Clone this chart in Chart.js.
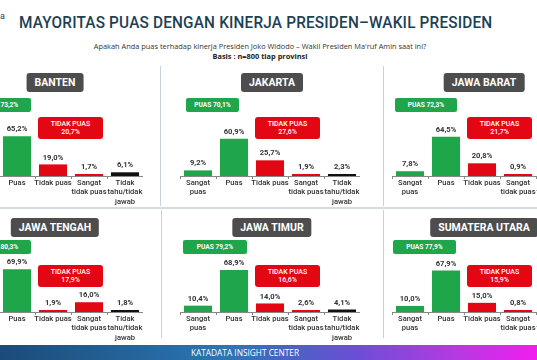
<!DOCTYPE html>
<html>
<head>
<meta charset="utf-8">
<script src="https://cdn.jsdelivr.net/npm/chart.js@4.4.1/dist/chart.umd.min.js"></script>
<style>
  body { margin: 0; width: 537px; height: 360px; overflow: hidden; position: relative; background: #fff; font-family: Roboto, sans-serif; }
  .abs { position: absolute; }
  #title { left: 19px; top: 12px; font-size: 17px; font-weight: 500; color: #1d4154; white-space: nowrap; transform-origin: 0 0; letter-spacing: 0.2px; }
  #sub { left: 0; width: 520px; top: 41px; text-align: center; font-family: 'Open Sans', sans-serif; font-size: 7.4px; color: #333; }
  #basis { left: 0; width: 520px; top: 51px; text-align: center; font-family: 'Open Sans', sans-serif; font-size: 7.4px; font-weight: 700; color: #222; }
  .vline { width: 1px; background: #c9d0da; }
  .hline { height: 2px; background: #d5dbe3; }
  .tbox { background: #4d4d4d; color: #fff; font-weight: 700; font-size: 10.5px; height: 19px; line-height: 19px; padding: 0 8px; border-radius: 3px; transform: translateX(-50%); white-space: nowrap; }
  .gbox { background: #1fa64a; color: #fff; font-weight: 700; font-size: 6.6px; height: 14px; line-height: 14px; text-align: center; border-radius: 2px; white-space: nowrap; }
  .rbox { background: #e30613; color: #fff; font-weight: 500; font-size: 7px; height: 22px; line-height: 8.5px; text-align: center; border-radius: 3px; box-sizing: border-box; padding-top: 2.5px; }
  #footer { left: 0; top: 345px; width: 537px; height: 15px; background: linear-gradient(90deg, #1b4b78 0%, #2c76b3 42%, #6a4fd6 66%, #b53ae2 85%, #f21df0 100%); }
  #footer span { position: absolute; left: 190px; width: 110px; text-align: center; top: 2px; font-family: 'Open Sans', sans-serif; font-size: 8.3px; color: #fff; white-space: nowrap; }
</style>
</head>
<body>
<div class="abs" style="left:0;top:11px;font-size:9px;color:#1d4154;">a</div>
<div class="abs" id="title">MAYORITAS PUAS DENGAN KINERJA PRESIDEN–WAKIL PRESIDEN</div>
<div class="abs" id="sub">Apakah Anda puas terhadap kinerja Presiden Joko Widodo – Wakil Presiden Ma'ruf Amin saat ini?</div>
<div class="abs" id="basis">Basis : n=800 tiap provinsi</div>

<div class="abs vline" style="left:160px;top:66px;height:140px;"></div>
<div class="abs vline" style="left:383px;top:66px;height:140px;"></div>
<div class="abs vline" style="left:161px;top:210px;height:128px;"></div>
<div class="abs vline" style="left:383px;top:210px;height:128px;"></div>
<div class="abs hline" style="left:0;top:207px;width:537px;"></div>

<div id="panels"></div>

<div class="abs" id="footer"><span>KATADATA INSIGHT CENTER</span></div>

<script>
// --- data ---
const categories = [['Sangat', 'puas'], 'Puas', 'Tidak puas', ['Sangat', 'tidak puas'], ['Tidak', 'tahu/tidak', 'jawab']];
const provinces = ['BANTEN', 'JAKARTA', 'JAWA BARAT', 'JAWA TENGAH', 'JAWA TIMUR', 'SUMATERA UTARA'];

const banten = [8.0, 65.2, 19.0, 1.7, 6.1];
const jakarta = [9.2, 60.9, 25.7, 1.9, 2.3];
const jawaBarat = [7.8, 64.5, 20.8, 0.9, 6.0];
const jawaTengah = [10.4, 69.9, 1.9, 16.0, 1.8];
const jawaTimur = [10.4, 68.9, 14.0, 2.6, 4.1];
const sumateraUtara = [10.0, 67.9, 15.0, 0.8, 6.2];

const puasTotal = [73.2, 70.1, 72.3, 80.3, 79.2, 77.9];
const tidakPuasTotal = [20.7, 27.6, 21.7, 17.9, 16.6, 15.9];

const seriesByProvince = [banten, jakarta, jawaBarat, jawaTengah, jawaTimur, sumateraUtara];

// --- layout / style ---
const barColors = ['#1fa64a', '#1fa64a', '#e30613', '#e30613', '#111111'];
const colX = [-37, 180, 392];
const rowTop = [100, 236];
const titleTop = [73, 218];
const greenTop = [98, 240];
const redTop = [117, 265];
const greenLeft = [6, 6, 3, 6, 3, 1];
const greenWidth = [62, 53, 62, 62, 64, 63];

const fmt = v => v.toFixed(1).replace('.', ',') + '%';

// fit the headline to the reference width
const title = document.getElementById('title');
title.style.transform = 'scaleX(' + (473 / title.offsetWidth) + ')';

const valueLabels = {
  id: 'valueLabels',
  afterDatasetsDraw(chart) {
    const { ctx } = chart;
    const values = chart.data.datasets[0].data;
    ctx.save();
    ctx.font = '700 7.6px Roboto';
    ctx.fillStyle = '#333';
    ctx.textAlign = 'center';
    ctx.textBaseline = 'bottom';
    chart.getDatasetMeta(0).data.forEach((bar, i) => {
      ctx.fillText(fmt(values[i]), bar.x, bar.y - 3);
    });
    ctx.restore();
  },
};

const panels = document.getElementById('panels');

function addDiv(cls, left, top, html, width) {
  const d = document.createElement('div');
  d.className = 'abs ' + cls;
  d.style.left = left + 'px';
  d.style.top = top + 'px';
  if (width) d.style.width = width + 'px';
  d.innerHTML = html;
  panels.appendChild(d);
  return d;
}

provinces.forEach((name, p) => {
  const col = p % 3;
  const row = Math.floor(p / 3);
  const x0 = colX[col];

  const canvas = document.createElement('canvas');
  canvas.width = 180;
  canvas.height = 110;
  canvas.className = 'abs';
  canvas.style.left = x0 + 'px';
  canvas.style.top = rowTop[row] + 'px';
  panels.appendChild(canvas);

  new Chart(canvas, {
    type: 'bar',
    data: {
      labels: categories,
      datasets: [{
        data: seriesByProvince[p],
        backgroundColor: barColors,
        categoryPercentage: 1,
        barPercentage: 0.78,
        minBarLength: 2,
      }],
    },
    options: {
      responsive: false,
      animation: false,
      devicePixelRatio: 1,
      layout: { padding: { top: 15, left: 0, right: 0, bottom: 0 } },
      plugins: { legend: { display: false }, tooltip: { enabled: false } },
      scales: {
        y: { display: false, min: 0, max: 100 },
        x: {
          grid: { drawOnChartArea: false, drawTicks: true, tickLength: 3, color: '#888', offset: true },
          border: { display: true, color: '#888', width: 1 },
          ticks: {
            color: '#333',
            padding: -1,
            autoSkip: false,
            maxRotation: 0,
            font: { family: 'Roboto', size: 7.6, weight: '500', lineHeight: 1.25 },
          },
          afterFit(scale) { scale.height = 34; },
        },
      },
    },
    plugins: [valueLabels],
  });

  addDiv('tbox', x0 + 92, titleTop[row], name);
  addDiv('gbox', x0 + greenLeft[p], greenTop[row], 'PUAS ' + fmt(puasTotal[p]), greenWidth[p]);
  addDiv('rbox', x0 + 75, redTop[row], 'TIDAK PUAS<br>' + fmt(tidakPuasTotal[p]), 65);
});
</script>
</body>
</html>
